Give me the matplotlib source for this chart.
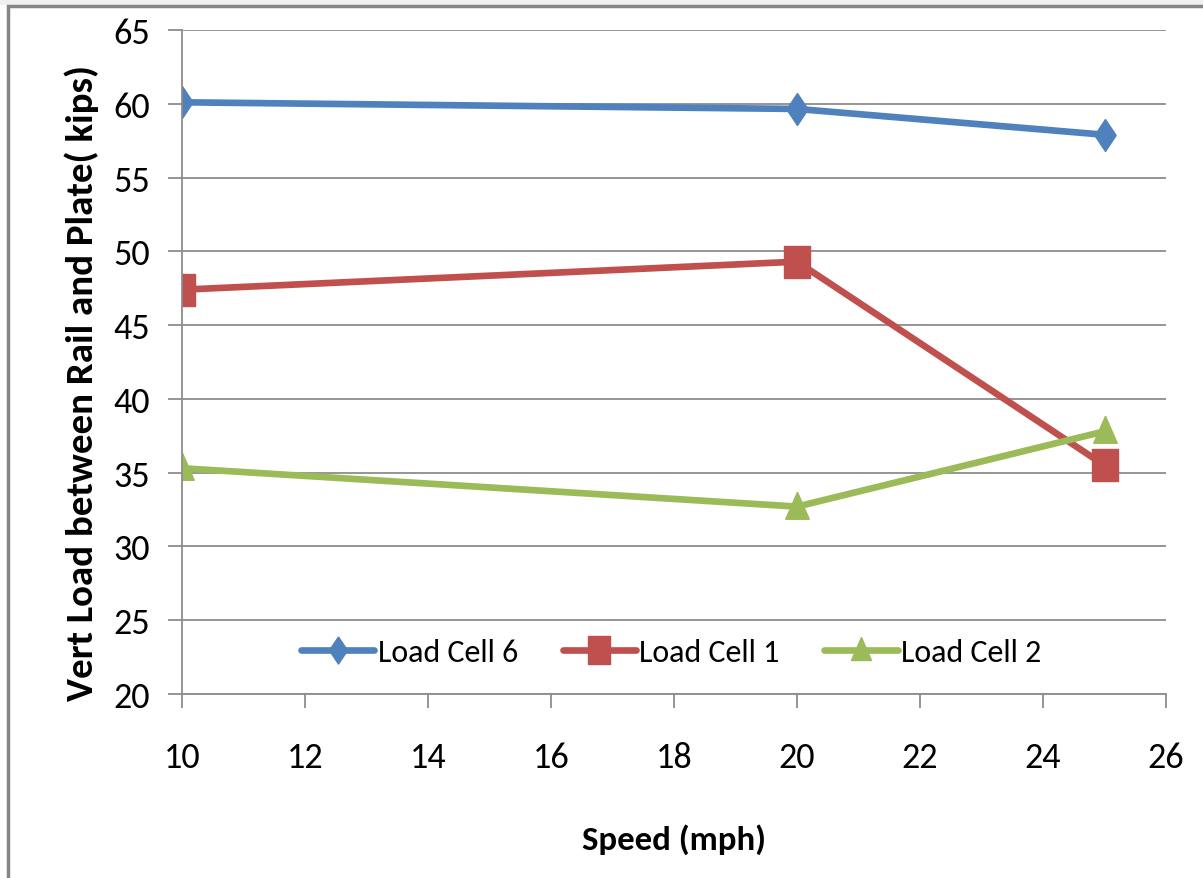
import matplotlib
matplotlib.use('agg')
import matplotlib.pyplot as plt
from matplotlib.patches import Rectangle

# speed vs vertical load per load cell
speeds = [10, 20, 25]
cell6 = [60.1, 59.65, 57.9]
cell1 = [47.4, 49.3, 35.5]
cell2 = [35.3, 32.7, 37.8]

# markers are a little taller than wide
diamond = [(0, 1.5), (1, 0), (0, -1.5), (-1, 0), (0, 1.5)]
square = [(-1, -1.25), (1, -1.25), (1, 1.25), (-1, 1.25), (-1, -1.25)]
triangle = [(0, 1.3), (1, -1), (-1, -1), (0, 1.3)]

series = [
    ('Load Cell 6', cell6, '#4F81BD', diamond, 23),
    ('Load Cell 1', cell1, '#C0504D', square, 23),
    ('Load Cell 2', cell2, '#9BBB59', triangle, 22),
]

plt.rcParams['font.family'] = ['Carlito', 'Liberation Sans Narrow', 'Open Sans', 'DejaVu Sans']

fig = plt.figure(figsize=(12.03, 8.79), dpi=100)
fig.patch.set_facecolor('white')

# light strip above the chart and the outer frame, cut off at right/bottom
fig.patches.append(Rectangle((0, 1 - 6 / 879), 1, 6 / 879, transform=fig.transFigure,
                             facecolor='#f0f0f0', edgecolor='none'))
fig.patches.append(Rectangle((8 / 1203, -0.05), 1.2, 1 - 7 / 879 + 0.05,
                             transform=fig.transFigure, fill=False,
                             edgecolor='#868686', linewidth=2.5))

ax = fig.add_axes([182 / 1203, 1 - 695 / 879, (1166 - 182) / 1203, (695 - 31) / 879])

for name, vals, color, marker, ms in series:
    ax.plot(speeds, vals, color=color, linewidth=4.8, marker=marker,
            markersize=ms, label=name, solid_capstyle='round')

ax.set_xlim(10, 26)
ax.set_ylim(20, 65)
ax.set_xticks(range(10, 27, 2))
ax.set_yticks(range(20, 66, 5))
ax.grid(axis='y', color='#8c8c8c', linewidth=1.3)
ax.set_axisbelow(True)

for side in ('top', 'right'):
    ax.spines[side].set_visible(False)
for side in ('left', 'bottom'):
    ax.spines[side].set_color('#8c8c8c')
    ax.spines[side].set_linewidth(1.3)

ax.tick_params(axis='both', colors='#8c8c8c', width=1.3, length=10,
               labelsize=26, labelcolor='black')
ax.tick_params(axis='x', pad=24)
ax.tick_params(axis='y', pad=13)

ax.set_xlabel('Speed (mph)', fontsize=25, fontweight='bold', labelpad=36)
ax.set_ylabel('Vert Load between Rail and Plate( kips)', fontsize=28,
              fontweight='bold', labelpad=10)
ax.yaxis.label.set_y(0.47)

ax.legend(loc='center', bbox_to_anchor=(0.497, 0.063), ncol=3,
          frameon=False, fontsize=23, handlelength=2.3, handletextpad=0.1,
          columnspacing=1.4, markerscale=0.85)

fig.savefig('out.png', dpi=100, facecolor='white')
